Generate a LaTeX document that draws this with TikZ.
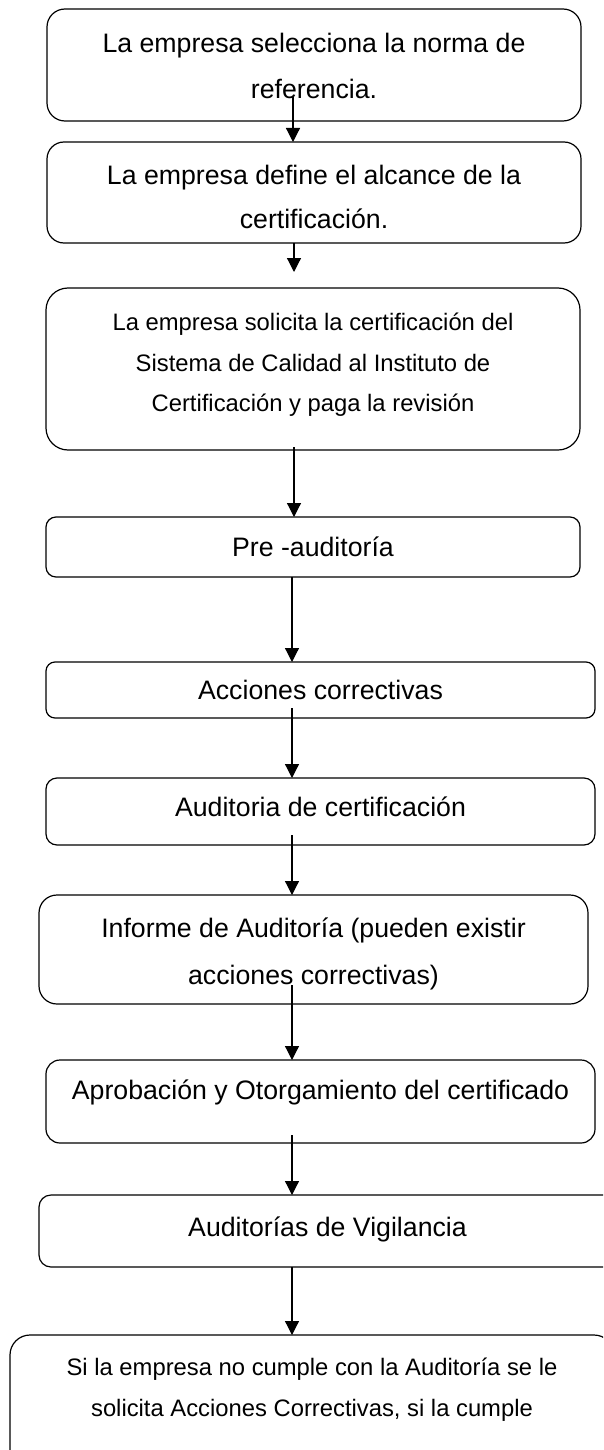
\documentclass[tikz,border=0pt]{standalone}
\usepackage{fontspec}
\setmainfont{Liberation Sans}
\usetikzlibrary{arrows.meta}
\begin{document}
\begin{tikzpicture}[x=1pt,y=-1pt,
  box/.style={draw, line width=1.2pt, rounded corners=#1, inner sep=0pt, outer sep=0pt},
  box/.default=12pt,
  big/.style={anchor=base, inner sep=0pt, font=\fontsize{26.7}{30}\selectfont},
  small/.style={anchor=base, inner sep=0pt, font=\fontsize{23.8}{28}\selectfont},
  arr/.style={line width=1.2pt, -{Triangle[width=14pt,length=14pt]}}]
\useasboundingbox (0,0) rectangle (603,1450);
\clip (0,0) rectangle (603,1450);

% boxes
\node[box=18pt, minimum width=534pt, minimum height=112pt] (b1) at (314,65) {};
\node[box=17pt, minimum width=534pt, minimum height=101pt] (b2) at (314,192.5) {};
\node[box=22pt, minimum width=534pt, minimum height=162pt] (b3) at (313,369) {};
\node[box=10pt, minimum width=534pt, minimum height=60pt] (b4) at (313,547) {};
\node[box=9pt, minimum width=549pt, minimum height=56pt] (b5) at (320.5,690) {};
\node[box=11pt, minimum width=549pt, minimum height=67pt] (b6) at (320.5,811.5) {};
\node[box=18pt, minimum width=549pt, minimum height=109pt] (b7) at (313.5,949.5) {};
\node[box=14pt, minimum width=549pt, minimum height=83pt] (b8) at (320.5,1101.5) {};
\node[box=12pt, minimum width=577pt, minimum height=72pt] (b9) at (327.5,1231) {};
\node[box=20pt, minimum width=604pt, minimum height=145pt] (b10) at (312,1407.5) {};

% texts
\node[big] (t1a) at (b1.center |- 0,53) {La empresa selecciona la norma de};
\node[big] (t1b) at (b1.center |- 0,99) {referencia.};
\node[big] (t2a) at (b2.center |- 0,185) {La empresa define el alcance de la};
\node[big] (t2b) at (b2.center |- 0,229) {certificación.};
\node[small] (t3a) at (b3.center |- 0,330) {La empresa solicita la certificación del};
\node[small] (t3b) at (b3.center |- 0,371) {Sistema de Calidad al Instituto de};
\node[small] (t3c) at (b3.center |- 0,411) {Certificación y paga la revisión};
\node[big] (t4) at (b4.center |- 0,556) {Pre -auditoría};
\node[big] (t5) at (b5.center |- 0,699) {Acciones correctivas};
\node[big] (t6) at (b6.center |- 0,816) {Auditoria de certificación};
\node[big] (t7a) at (b7.center |- 0,937) {Informe de Auditoría (pueden existir};
\node[big] (t7b) at (b7.center |- 0,984) {acciones correctivas)};
\node[big] (t8) at (b8.center |- 0,1099) {Aprobación y Otorgamiento del certificado};
\node[big] (t9) at (b9.center |- 0,1236) {Auditorías de Vigilancia};
\node[small] (t10a) at (b10.center |- 0,1375) {Si la empresa no cumple con la Auditoría se le};
\node[small] (t10b) at (b10.center |- 0,1416) {solicita Acciones Correctivas, si la cumple};

% arrows
\coordinate (s1) at (293,97);
\draw[arr] (s1) -- (s1 |- b2.north);
\coordinate (e2) at (294,272);
\draw[arr] (e2 |- b2.south) -- (e2);
\coordinate (s3) at (294,447);
\draw[arr] (s3) -- (s3 |- b4.north);
\coordinate (c4) at (292,0);
\draw[arr] (c4 |- b4.south) -- (c4 |- b5.north);
\coordinate (s5) at (292,708);
\draw[arr] (s5) -- (s5 |- b6.north);
\coordinate (s6) at (292,835);
\draw[arr] (s6) -- (s6 |- b7.north);
\coordinate (s7) at (292,985);
\draw[arr] (s7) -- (s7 |- b8.north);
\coordinate (s8) at (292,1135);
\draw[arr] (s8) -- (s8 |- b9.north);
\draw[arr] (c4 |- b9.south) -- (c4 |- b10.north);
\end{tikzpicture}
\end{document}
